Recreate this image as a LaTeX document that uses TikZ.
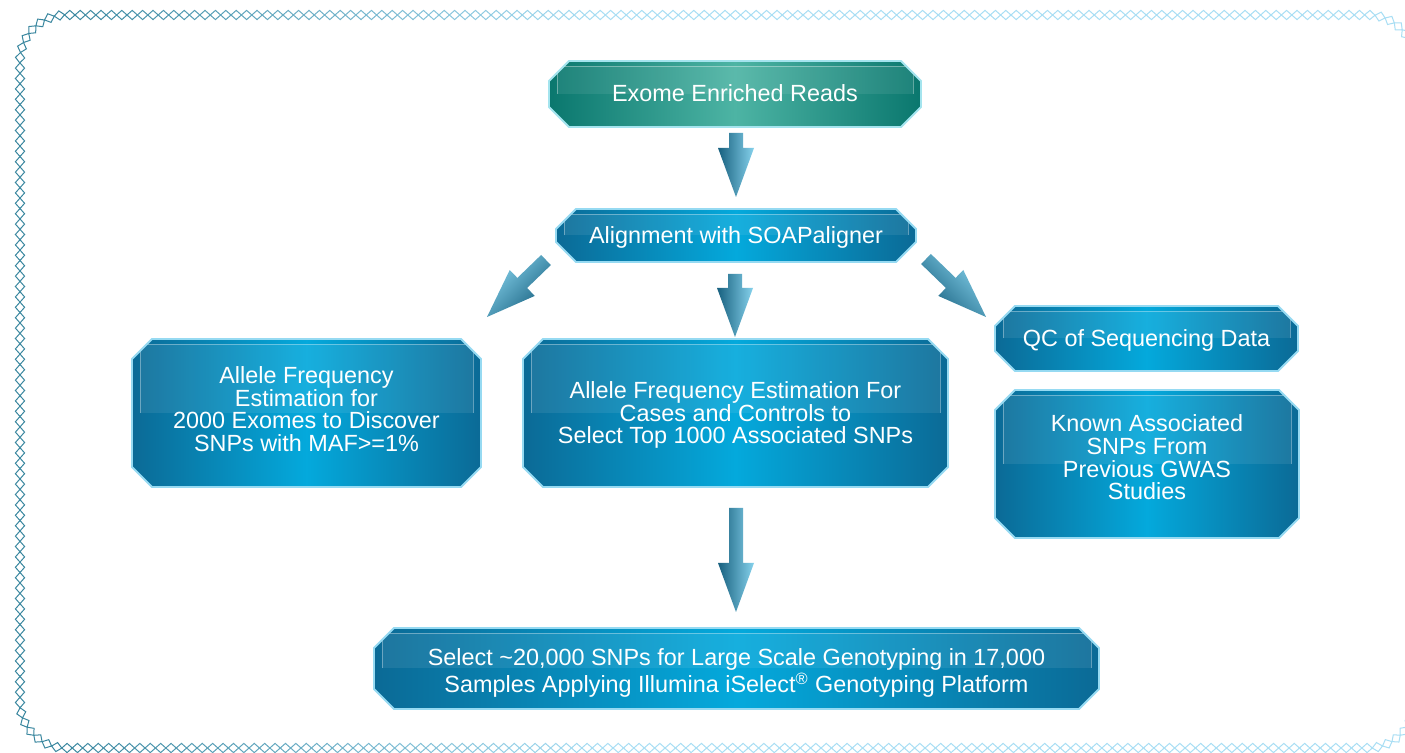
\documentclass[tikz,border=0pt]{standalone}
\usepackage{fontspec}
\setmainfont{Liberation Sans}
\usepackage{tikz}
\usetikzlibrary{shapes.misc,calc,decorations.markings}
\definecolor{boxdark}{HTML}{0B6A96}
\definecolor{boxmid}{HTML}{04A9DC}
\definecolor{boxrim}{HTML}{96DAF2}
\definecolor{tealdark}{HTML}{0A776E}
\definecolor{tealmid}{HTML}{4DB4A4}
\definecolor{tealrim}{HTML}{A4E4EE}
\definecolor{arrdark}{HTML}{17607F}
\definecolor{arrlight}{HTML}{86D2EC}
\definecolor{framedark}{HTML}{3A879F}
\definecolor{framelight}{HTML}{A8DEF4}
\tikzstyle{gloss} = [path picture={
    \fill[white, opacity=0.08] ([xshift=4pt]path picture bounding box.west) rectangle ([xshift=-4pt,yshift=-2.5pt]path picture bounding box.north east);
    \draw[white, opacity=0.35, line width=0.4pt] ([xshift=4pt]path picture bounding box.west) |- ([xshift=-4pt,yshift=-2.5pt]path picture bounding box.north east) -- ([xshift=-4pt]path picture bounding box.east);
}]
\tikzstyle{box} = [chamfered rectangle, chamfered rectangle xsep=5pt, chamfered rectangle ysep=5pt, inner sep=6pt, draw=boxrim, line width=0.9pt, left color=boxdark, right color=boxdark, middle color=boxmid, gloss]
\tikzstyle{tealbox} = [box, draw=tealrim, left color=tealdark, right color=tealdark, middle color=tealmid]
\tikzstyle{steptext} = [inner sep=0pt, text=white, align=center, font=\fontsize{11.7}{11.3}\selectfont]
\newcommand{\blockarrow}[3]{%
    \coordinate (#2h) at ($(#3)!24.5pt!(#2)$);
    \shade[left color=arrdark, right color=arrlight, shading angle=#1]
        ($(#2)!3.5pt!90:(#3)$) -- ($(#2h)!3.5pt!90:(#3)$) -- ($(#2h)!9pt!90:(#3)$) -- (#3)
        -- ($(#2h)!9pt!-90:(#3)$) -- ($(#2h)!3.5pt!-90:(#3)$) -- ($(#2)!3.5pt!-90:(#3)$) -- cycle;
}

\begin{document}
\begin{tikzpicture}[x=0.5pt, y=-0.5pt]
    \path[use as bounding box, fill=white] (0,0) rectangle (1405,753);

    % Frame
    \begin{scope}
        \clip (0,0) rectangle (1405,753);
        \path[rounded corners=23pt, decorate, decoration={markings, mark=between positions 0 and 1 step 5.2pt with {
            \pgfpointtransformed{\pgfpointorigin}\pgfgetlastxy{\mx}{\my}
            \pgfmathtruncatemacro{\pct}{max(0,min(100,(\mx-30)/270*100))}
            \colorlet{framecur}{framelight!\pct!framedark}
            \draw[framecur, line width=0.5pt, sharp corners] (-2.6pt,0pt) -- (0pt,2.3pt) -- (2.6pt,0pt) -- (0pt,-2.3pt) -- cycle;
        }}] (1414,380) -- (1414,748) -- (20,748) -- (20,15) -- (1414,15) -- (1414,380);
    \end{scope}

    % Exome reads
    \node[tealbox, minimum width=186pt, minimum height=33pt] (exomebox) at (735,94) {};
    \node[steptext] (exome) at (735,93.3) {Exome Enriched Reads};

    % Alignment
    \node[box, minimum width=180pt, minimum height=26.5pt] (alignbox) at (736,235.5) {};
    \node[steptext] (align) at (736,237) {Alignment with SOAPaligner};

    % Allele frequency
    \node[box, minimum width=174.5pt, minimum height=74pt] (afallbox) at (306.5,413) {};
    \node[steptext] (afall) at (306.5,409) {Allele Frequency\\Estimation for\\2000 Exomes to Discover\\SNPs with MAF>=1\%};
    \node[box, minimum width=212.5pt, minimum height=74pt] (afcasebox) at (735.5,413) {};
    \node[steptext] (afcase) at (735.5,415) {Allele Frequency Estimation For\\Cases and Controls to\\Select Top 1000 Associated SNPs};

    % Right column
    \node[box, minimum width=151.5pt, minimum height=32.5pt] (qcbox) at (1146.5,338.5) {};
    \node[steptext] (qc) at (1146.5,340.5) {QC of Sequencing Data};
    \node[box, minimum width=152pt, minimum height=74pt] (gwasbox) at (1147,464) {};
    \node[steptext] (gwas) at (1147,457.5) {Known Associated\\SNPs From\\Previous GWAS\\Studies};

    % Genotyping
    \node[box, minimum width=362.5pt, minimum height=40.5pt] (selectbox) at (736.5,668.5) {};
    \node[steptext, font=\fontsize{11.7}{13.8}\selectfont] (select) at (736.5,673) {Select \textasciitilde20,000 SNPs for Large Scale Genotyping in 17,000\\Samples Applying Illumina iSelect\smash{\textsuperscript{\textregistered}} Genotyping Platform};

    % Arrows
    \coordinate (a1s) at (736,133); \coordinate (a1t) at (736,197);
    \coordinate (a2s) at (735,274); \coordinate (a2t) at (735,337);
    \coordinate (a3s) at (736,508); \coordinate (a3t) at (736,612);
    \coordinate (a4s) at (546,260); \coordinate (a4t) at (487,317);
    \coordinate (a5s) at (926,259); \coordinate (a5t) at (986,317);
    \blockarrow{90}{a1s}{a1t}
    \blockarrow{90}{a2s}{a2t}
    \blockarrow{90}{a3s}{a3t}
    \blockarrow{225}{a4s}{a4t}
    \blockarrow{135}{a5s}{a5t}
\end{tikzpicture}
\end{document}
